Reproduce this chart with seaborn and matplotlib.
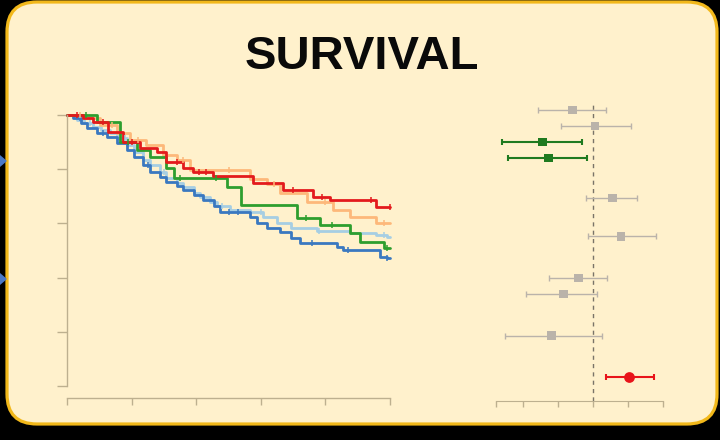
import numpy as np
import pandas as pd
import seaborn as sns
import matplotlib.pyplot as plt
from matplotlib.patches import FancyBboxPatch, Polygon

# ===== DATA =====
# Kaplan-Meier step curves (time in years, survival fraction)
red_t = [0, 0.25, 0.40, 0.64, 0.87, 1.13, 1.40, 1.54, 1.80, 1.95, 2.26, 2.88, 3.35, 3.81, 4.07, 4.79, 5.0]
red_s = [1.0, 0.99, 0.975, 0.937, 0.90, 0.878, 0.862, 0.827, 0.804, 0.79, 0.775, 0.749, 0.723, 0.697, 0.686, 0.662, 0.662]

orange_t = [0, 0.30, 0.51, 0.77, 0.975, 1.23, 1.49, 1.70, 1.90, 2.83, 3.10, 3.30, 3.71, 4.12, 4.38, 4.79, 5.0]
orange_s = [1.0, 0.99, 0.963, 0.933, 0.908, 0.889, 0.852, 0.834, 0.797, 0.762, 0.745, 0.712, 0.68, 0.649, 0.625, 0.603, 0.603]

green_t = [0, 0.46, 0.82, 1.08, 1.28, 1.54, 1.65, 2.47, 2.70, 3.56, 3.92, 4.38, 4.54, 4.90, 5.0]
green_s = [1.0, 0.975, 0.90, 0.871, 0.846, 0.803, 0.766, 0.735, 0.668, 0.619, 0.594, 0.563, 0.532, 0.508, 0.508]

ltblue_t = [0, 0.15, 0.26, 0.41, 0.52, 0.67, 0.77, 0.93, 1.03, 1.18, 1.29, 1.44, 1.54, 1.70, 1.80, 1.96,
            2.06, 2.22, 2.32, 2.53, 2.84, 3.04, 3.25, 3.46, 3.87, 4.38, 4.79, 4.95, 5.0]
ltblue_s = [1.0, 0.982, 0.969, 0.957, 0.945, 0.932, 0.914, 0.889, 0.865, 0.834, 0.815, 0.791, 0.766, 0.748, 0.733, 0.711,
            0.696, 0.68, 0.664, 0.649, 0.643, 0.625, 0.60, 0.582, 0.572, 0.563, 0.557, 0.551, 0.551]

blue_t = [0, 0.10, 0.21, 0.31, 0.46, 0.62, 0.77, 0.93, 1.03, 1.18, 1.29, 1.44, 1.54, 1.70, 1.80, 1.96,
          2.11, 2.27, 2.37, 2.84, 2.94, 3.09, 3.30, 3.46, 3.61, 4.18, 4.28, 4.85, 4.95, 5.0]
blue_s = [1.0, 0.988, 0.969, 0.951, 0.932, 0.92, 0.895, 0.871, 0.846, 0.815, 0.791, 0.773, 0.754, 0.738, 0.723, 0.705,
          0.686, 0.664, 0.643, 0.625, 0.60, 0.582, 0.569, 0.545, 0.526, 0.514, 0.502, 0.477, 0.471, 0.471]

# censoring times per group
red_cens = [0.15, 0.55, 1.0, 1.7, 2.05, 2.15, 3.5, 3.95, 4.7, 5.0]
orange_cens = [0.2, 0.7, 1.1, 1.8, 2.5, 3.2, 4.0, 4.9]
green_cens = [0.3, 0.95, 1.75, 2.3, 3.7, 4.1, 4.95]
ltblue_cens = [0.35, 0.9, 1.5, 2.4, 3.0, 3.9, 4.9]
blue_cens = [0.2, 0.55, 1.25, 2.5, 2.65, 3.8, 4.35, 4.95]

groups = ["Light blue", "Blue", "Orange", "Green", "Red"]
group_colors = {"Light blue": "#a6cee3", "Blue": "#3a78c0", "Orange": "#fdb87a",
                "Green": "#2e9e2e", "Red": "#e31a1c"}

# forest plot rows (row position, estimate, lower, upper, group)
row_pos = [0, 1, 2, 3, 5.5, 7.9, 10.5, 11.5, 14.1, 16.7]
est = [-0.58, 0.06, -1.45, -1.28, 0.55, 0.80, -0.41, -0.85, -1.18, 1.03]
lower = [-1.56, -0.92, -2.61, -2.42, -0.20, -0.13, -1.25, -1.91, -2.51, 0.36]
upper = [0.37, 1.08, -0.32, -0.16, 1.27, 1.80, 0.39, 0.12, 0.25, 1.75]
row_kind = ["ns", "ns", "low", "low", "ns", "ns", "ns", "ns", "ns", "high"]
kind_colors = {"ns": "#bab3aa", "low": "#1f7a1f", "high": "#e8141a"}

km_xticks = [0, 1, 2, 3, 4, 5]
km_yticks = [0, 0.2, 0.4, 0.6, 0.8, 1.0]
forest_xticks = [-2.77, -2, -1, 0, 1, 2]

TITLE = "SURVIVAL"
PANEL = "#fff1cc"
BORDER = "#f2b81a"
AXIS = "#bdb08f"

# ===== FIGURE =====
sns.set_style("white")
plt.rcParams["font.family"] = ["Liberation Sans", "DejaVu Sans"]

fig = plt.figure(figsize=(7.2, 4.4), dpi=100, facecolor="black")

# background panel in pixel coordinates
bg = fig.add_axes([0, 0, 1, 1])
bg.set_xlim(0, 720)
bg.set_ylim(440, 0)
bg.axis("off")
bg.add_patch(FancyBboxPatch((7, 2), 710, 422, boxstyle="round,pad=0,rounding_size=30",
                            facecolor=PANEL, edgecolor=BORDER, linewidth=2.3))
for yc in (161, 279):
    bg.add_patch(Polygon([(0, yc - 6), (0, yc + 6), (7, yc)], closed=True,
                         facecolor="#4a78c8", edgecolor="none"))
bg.text(362, 57, TITLE, ha="center", va="center", fontsize=34, fontweight="bold", color="#0a0a0a")

# ===== Kaplan-Meier =====
km = fig.add_axes([67 / 720, 54 / 440, 323 / 720, 271 / 440])
km.patch.set_alpha(0)

curves = {"Red": (red_t, red_s, red_cens), "Orange": (orange_t, orange_s, orange_cens),
          "Green": (green_t, green_s, green_cens), "Light blue": (ltblue_t, ltblue_s, ltblue_cens),
          "Blue": (blue_t, blue_s, blue_cens)}

frames = []
for g in groups:
    t, s, _ = curves[g]
    frames.append(pd.DataFrame({"time": t, "surv": s, "group": g}))
df = pd.concat(frames, ignore_index=True)

sns.lineplot(data=df, x="time", y="surv", hue="group", hue_order=groups, palette=group_colors,
             drawstyle="steps-post", estimator=None, sort=False, linewidth=2.0,
             legend=False, ax=km, clip_on=False)

for g in groups:
    t, s, c = curves[g]
    idx = np.searchsorted(t, c, side="right") - 1
    km.plot(c, np.array(s)[idx], linestyle="none", marker="|", markersize=5,
            markeredgewidth=1.1, color=group_colors[g], clip_on=False)

km.set_xlim(0, 5)
km.set_ylim(0, 1)
km.set_xticks(km_xticks)
km.set_yticks(km_yticks)
km.set_xticklabels([])
km.set_yticklabels([])
km.set_xlabel("")
km.set_ylabel("")
for side in ("top", "right"):
    km.spines[side].set_visible(False)
km.spines["bottom"].set_position(("outward", 8.6))
for side in ("left", "bottom"):
    km.spines[side].set_color(AXIS)
    km.spines[side].set_linewidth(1.0)
km.tick_params(axis="y", left=True, length=7, width=1, color=AXIS, direction="out")
km.tick_params(axis="x", bottom=True, length=5, width=1, color=AXIS, direction="out")

# ===== Forest plot =====
fp = fig.add_axes([496 / 720, 39 / 440, 174 / 720, 297 / 440])
fp.patch.set_alpha(0)
fp.axvline(0, color="#7a7468", linestyle=(0, (3, 3)), linewidth=1.0, zorder=1)

forest = pd.DataFrame({"row": row_pos, "est": est, "lo": lower, "hi": upper, "kind": row_kind})
for _, r in forest.iterrows():
    lw = 1.0 if r["kind"] == "ns" else 1.5
    fp.errorbar(r["est"], r["row"], xerr=[[r["est"] - r["lo"]], [r["hi"] - r["est"]]],
                fmt="none", ecolor=kind_colors[r["kind"]], elinewidth=lw, capsize=2.5,
                capthick=lw, zorder=2)

sns.scatterplot(data=forest[forest["kind"] != "high"], x="est", y="row", hue="kind",
                palette=kind_colors, marker="s", s=40, linewidth=0, legend=False, ax=fp, zorder=3)
sns.scatterplot(data=forest[forest["kind"] == "high"], x="est", y="row", color=kind_colors["high"],
                marker="o", s=60, linewidth=0, legend=False, ax=fp, zorder=3)

fp.set_xlim(-2.77, 2.2)
fp.set_ylim(18.19, -0.375)
fp.set_xticks(forest_xticks)
fp.set_xticklabels([])
fp.set_yticks([])
fp.set_xlabel("")
fp.set_ylabel("")
for side in ("top", "right", "left"):
    fp.spines[side].set_visible(False)
fp.spines["bottom"].set_color(AXIS)
fp.spines["bottom"].set_bounds(-2.77, 2)
fp.tick_params(axis="x", bottom=True, length=4, width=1, color=AXIS, direction="out")

fig.savefig("out.png", dpi=100, facecolor=fig.get_facecolor())
plt.close(fig)
